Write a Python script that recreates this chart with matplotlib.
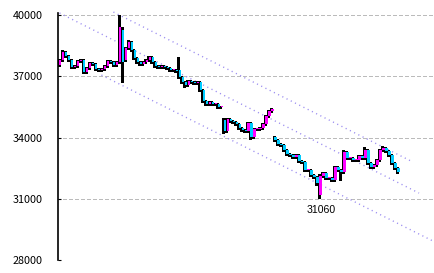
import matplotlib
matplotlib.use("Agg")
import matplotlib.pyplot as plt

# daily candles (open, high, low, close)
opens = [37550, 37800, 38190, 37990, 37800, 37450, 37500, 37750, 37800, 37210,
         37400, 37650, 37600, 37350, 37300, 37350, 37500, 37750, 37700, 37550,
         37700, 39260, 37800, 38380, 38680, 38290, 37900, 37700, 37600, 37700,
         37800, 37940, 37700, 37500, 37450, 37500, 37450, 37400, 37300, 37300,
         37300, 36960, 36700, 36570, 36770, 36720, 36670, 36720, 36330, 35790,
         35640, 35740, 35640, 35640, 35490, 34850, 34300, 34900, 34810, 34760,
         34660, 34460, 34370, 34320, 34710, 34020, 34410, 34410, 34460, 34660,
         35050, 35300, 34020, 33880, 33680, 33630, 33380, 33190, 33140, 33040,
         33140, 32850, 32800, 32400, 32400, 32160, 32060, 31160, 32110, 32260,
         32010, 32010, 31920, 32550, 32400, 32300, 33290, 32990, 33000, 32900,
         32900, 33090, 32990, 33390, 32750, 32550, 32650, 32900, 33390, 33480,
         33340, 33140, 32750, 32500]
highs = [37870, 38290, 38240, 38050, 37850, 37560, 37800, 37850, 37850, 37450,
         37700, 37700, 37650, 37400, 37400, 37560, 37800, 37800, 37750, 37750,
         40000, 39400, 38450, 38780, 38720, 38340, 37950, 37750, 37750, 37850,
         38000, 37990, 37750, 37550, 37550, 37550, 37500, 37450, 37350, 37350,
         37940, 37010, 36750, 36820, 36820, 36770, 36770, 36770, 36380, 35840,
         35800, 35790, 35690, 35690, 35550, 34950, 34950, 34960, 34860, 34810,
         34710, 34510, 34420, 34770, 34760, 34460, 34470, 34510, 34710, 35100,
         35350, 35450, 34080, 33930, 33730, 33680, 33430, 33240, 33190, 33190,
         33190, 32900, 32850, 32450, 32450, 32210, 32110, 32200, 32310, 32310,
         32060, 32060, 32600, 32600, 32450, 33400, 33340, 33050, 33050, 32950,
         33150, 33140, 33530, 33440, 32800, 32700, 32950, 33440, 33560, 33530,
         33390, 33190, 32800, 32550]
lows = [37500, 37750, 37940, 37750, 37400, 37400, 37450, 37700, 37150, 37150,
        37350, 37550, 37300, 37250, 37250, 37300, 37450, 37650, 37500, 37500,
        37650, 36720, 37750, 38330, 38240, 37850, 37650, 37550, 37550, 37650,
        37750, 37650, 37450, 37400, 37400, 37400, 37350, 37250, 37250, 37200,
        36900, 36650, 36480, 36520, 36670, 36620, 36620, 36280, 35740, 35590,
        35590, 35590, 35590, 35440, 35440, 34200, 34250, 34760, 34710, 34610,
        34410, 34320, 34270, 34270, 33950, 33970, 34360, 34360, 34410, 34610,
        35000, 35250, 33830, 33630, 33580, 33330, 33140, 33090, 32990, 32990,
        32800, 32750, 32350, 32350, 32110, 32010, 31650, 31060, 32060, 31960,
        31960, 31850, 31870, 32350, 31910, 32250, 32940, 32940, 32850, 32850,
        32850, 32940, 32940, 32700, 32500, 32500, 32600, 32850, 33340, 33290,
        33090, 32700, 32450, 32250]
closes = [37800, 38190, 37990, 37800, 37450, 37500, 37750, 37800, 37210, 37400,
          37650, 37600, 37350, 37300, 37350, 37500, 37750, 37700, 37550, 37700,
          39410, 37700, 38380, 38680, 38290, 37900, 37700, 37600, 37700, 37800,
          37940, 37700, 37500, 37450, 37500, 37450, 37400, 37300, 37300, 37260,
          36960, 36700, 36570, 36770, 36720, 36670, 36720, 36330, 35790, 35640,
          35740, 35640, 35640, 35490, 35490, 34300, 34900, 34810, 34760, 34660,
          34460, 34370, 34320, 34710, 34020, 34410, 34410, 34460, 34660, 35050,
          35300, 35400, 33880, 33680, 33630, 33380, 33190, 33140, 33040, 33140,
          32850, 32800, 32400, 32400, 32160, 32060, 31750, 32110, 32260, 32010,
          32010, 31920, 32550, 32400, 32300, 33290, 32990, 33000, 32900, 32900,
          33090, 32990, 33390, 32750, 32550, 32650, 32900, 33390, 33480, 33340,
          33140, 32750, 32500, 32300]

# trend channel lines: (start index, end index), (start value, end value)
upper_line = ([18, 118], [40147, 32797])
middle_line = ([0, 120], [40098, 31278])
lower_line = ([14, 124.7], [37060, 28926])

yticks = [28000, 31000, 34000, 37000, 40000]

fig = plt.figure(figsize=(4.34, 2.73), dpi=100)
ax = fig.add_axes([58 / 434, 13 / 273, 376 / 434, 246.6 / 273])

for y in yticks:
    ax.axhline(y, color="#bbbbbb", lw=0.8, ls=(1, (3.5, 2.5)), zorder=0,
               antialiased=False)

n = len(closes)
xs = list(range(n))
wick_x = [x - 0.3 for x in xs]
ax.vlines(wick_x, lows, highs, color="black", lw=0.9, zorder=2,
          antialiased=False)
bottoms = [min(o, c) for o, c in zip(opens, closes)]
heights = [max(abs(c - o), 40) for o, c in zip(opens, closes)]
colors = ["#ff00ff" if c >= o else "#00ccff" for o, c in zip(opens, closes)]
ax.bar([x + 0.15 for x in xs], heights, bottom=bottoms, width=0.8,
       color=colors, lw=0, zorder=3, antialiased=False)

for xl, yl in (upper_line, middle_line, lower_line):
    ax.plot(xl, yl, color="#9a8cf0", lw=1.0, ls=(0, (0.8, 2.6)),
            clip_on=False, zorder=1)

i_low = lows.index(min(lows))
ax.annotate(f"{min(lows)}", (i_low, min(lows)), xytext=(1, -9),
            textcoords="offset points", ha="center", va="center",
            fontsize=7.6, family="Liberation Sans", color="black")

ax.set_xlim(-0.5, 125)
ax.set_ylim(28000, 40080)
ax.set_yticks(yticks)
ax.set_yticklabels([str(v) for v in yticks], family="Noto Sans CJK JP",
                   fontsize=7.8)
ax.tick_params(axis="y", direction="in", length=2.5, width=0.8, pad=11)
ax.set_xticks([])
for s in ("top", "right", "bottom"):
    ax.spines[s].set_visible(False)
ax.spines["left"].set_linewidth(1.2)

fig.savefig("out.png", dpi=100)
